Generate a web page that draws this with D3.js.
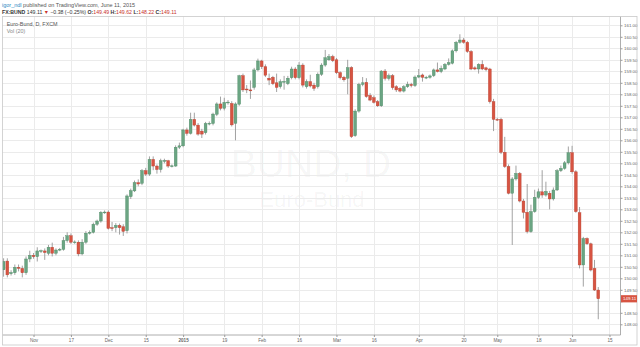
<!DOCTYPE html>
<html>
<head>
<meta charset="utf-8">
<script src="https://cdn.jsdelivr.net/npm/d3@7"></script>
<style>
  body { margin: 0; background: #fff; }
  svg { display: block; font-family: "Liberation Sans", Arial, sans-serif; }
</style>
</head>
<body>
<div id="app"></div>
<script>
// 取引日（週末と休場日を除く）
const firstDay = "2014-10-22";
const lastDay = "2015-06-15";
const holidays = ["2014-12-24", "2014-12-25", "2014-12-26", "2015-01-01", "2015-04-03", "2015-05-25"];

// x軸の目盛り
const xTickDates = ["2014-11-03", "2014-11-17", "2014-12-01", "2014-12-15", "2015-01-02", "2015-01-19",
  "2015-02-02", "2015-02-16", "2015-03-02", "2015-03-16", "2015-04-01", "2015-04-20",
  "2015-05-01", "2015-05-18", "2015-06-01", "2015-06-15"];
const xTickLabels = ["Nov", "17", "Dec", "15", "2015", "19", "Feb", "16", "Mar", "16", "Apr", "20", "May", "18", "Jun", "15"];

// y軸の目盛り
const yMin = 148, yMax = 161, yStep = 0.5;

// 日足 OHLC
const open = [
  150.37,150.75,150.20,150.24,150.48,150.43,150.24,150.84,151.00,150.94,
  151.19,151.19,151.09,151.35,151.09,151.24,151.26,151.64,151.85,151.57,
  151.57,151.06,151.57,151.96,152.00,152.35,152.49,152.87,152.88,152.20,
  152.20,152.30,152.24,152.07,153.55,153.80,154.16,154.13,154.68,154.53,
  155.17,154.88,154.73,155.10,155.11,154.88,154.88,155.70,155.76,156.45,
  156.30,156.91,156.66,156.40,156.33,156.73,156.73,157.13,157.58,157.39,
  157.65,157.60,156.74,157.57,158.81,158.23,158.19,158.30,159.06,159.45,
  159.20,158.70,158.74,158.50,158.33,158.55,158.46,158.72,159.10,158.72,
  159.27,158.33,158.55,158.40,158.33,158.87,159.27,159.50,159.64,159.50,
  158.94,158.74,158.70,159.16,156.20,157.27,158.43,158.52,157.95,157.85,
  157.68,157.50,159.01,158.69,158.81,158.33,158.26,158.14,158.33,158.43,
  158.38,158.75,158.84,158.72,158.74,158.81,159.06,158.99,159.10,159.30,
  159.35,159.89,160.26,160.36,160.26,159.86,159.15,159.10,159.30,159.15,
  159.10,157.68,156.91,156.91,155.48,154.86,153.70,154.32,154.56,153.36,
  152.87,152.03,152.90,153.52,153.76,153.62,153.70,153.45,153.84,154.68,
  154.78,155.02,155.46,154.63,152.85,150.58,151.73,151.50,150.43,149.49
];
const high = [
  150.87,150.87,150.35,150.60,150.60,150.55,150.95,151.20,151.10,151.35,
  151.25,151.30,151.45,151.55,151.30,151.32,151.80,152.00,151.95,151.65,
  151.65,151.70,152.05,152.08,152.42,152.55,152.92,152.95,152.95,152.45,
  152.40,152.38,152.35,153.65,153.90,154.25,154.30,154.75,154.80,155.30,
  155.30,154.95,155.20,155.20,155.15,154.95,155.78,155.90,156.50,156.55,
  157.20,157.20,156.75,156.50,156.80,156.82,157.20,157.65,157.90,157.85,
  157.75,157.70,157.65,158.85,158.90,158.40,158.60,159.15,159.55,159.50,
  159.30,158.90,158.80,158.90,158.65,158.80,158.80,159.20,159.18,159.40,
  159.35,158.65,158.85,158.50,158.95,159.35,159.93,159.75,159.72,159.58,
  159.00,158.80,159.50,159.22,157.35,158.50,158.75,158.70,158.05,157.95,
  157.75,159.05,159.10,158.90,158.88,158.40,158.32,158.40,158.55,158.50,
  158.82,159.10,158.90,158.80,158.86,159.12,159.38,159.25,159.36,159.56,
  159.95,160.32,160.61,160.45,160.32,159.92,159.22,159.35,159.48,159.20,
  159.15,157.80,156.98,156.98,156.15,154.95,154.40,154.90,154.62,153.45,
  154.10,153.20,153.85,153.90,154.70,154.20,153.80,153.95,154.75,154.90,
  155.10,155.73,155.76,154.70,153.10,151.80,151.78,151.55,150.80,149.62
];
const low = [
  150.07,150.04,150.12,150.15,150.30,150.04,150.15,150.70,150.85,150.73,
  151.10,150.80,151.00,150.95,151.00,151.18,151.20,151.55,151.50,151.50,
  150.96,151.00,151.50,151.90,151.95,152.28,152.42,152.80,152.12,152.05,
  152.00,151.90,151.84,151.95,153.45,153.75,154.00,154.05,154.45,154.45,
  154.70,154.55,154.60,155.00,154.80,154.82,154.85,155.62,155.70,156.20,
  156.25,156.60,156.20,156.10,156.25,156.65,156.65,157.05,157.30,157.30,
  157.55,156.60,156.00,157.50,158.10,158.05,157.80,158.20,159.00,159.10,
  158.75,158.40,158.40,158.10,158.25,158.20,158.40,158.65,158.65,158.65,
  158.30,158.25,158.30,158.15,158.25,158.80,159.20,159.45,159.40,158.88,
  158.65,158.55,158.00,156.10,156.15,157.20,158.35,157.85,157.70,157.60,
  157.45,157.45,158.60,158.60,158.20,158.10,158.08,158.08,158.28,158.30,
  158.32,158.70,158.55,158.66,158.68,158.75,158.95,158.92,159.05,159.25,
  159.30,159.82,160.20,160.20,159.80,159.05,159.05,158.90,159.05,159.00,
  157.60,156.40,156.85,155.40,154.80,153.65,151.45,154.25,153.30,152.60,
  151.95,151.98,152.85,153.45,153.50,153.55,153.00,153.38,153.80,154.62,
  154.72,154.95,154.55,152.85,150.43,149.64,151.45,150.30,149.45,148.22
];
const close = [
  150.73,150.15,150.25,150.48,150.43,150.24,150.84,151.00,150.94,151.19,
  151.20,151.12,151.35,151.09,151.23,151.26,151.64,151.85,151.57,151.58,
  151.06,151.57,151.96,152.00,152.35,152.49,152.87,152.88,152.17,152.17,
  152.30,152.20,152.04,153.58,153.81,154.16,154.10,154.68,154.53,155.17,
  154.88,154.73,155.11,155.12,154.88,154.89,155.70,155.76,156.45,156.30,
  156.91,156.66,156.27,156.27,156.73,156.74,157.14,157.58,157.39,157.65,
  157.66,156.67,157.58,158.81,158.19,158.19,158.15,159.06,159.45,159.20,
  158.83,158.62,158.46,158.30,158.55,158.56,158.70,159.10,158.72,159.27,
  158.40,158.55,158.36,158.26,158.87,159.27,159.59,159.64,159.46,158.94,
  158.72,158.63,159.16,156.16,157.27,158.43,158.50,157.90,157.75,157.65,
  157.50,159.01,158.69,158.81,158.29,158.19,158.14,158.33,158.43,158.38,
  158.75,158.81,158.74,158.74,158.80,159.06,158.99,159.13,159.30,159.38,
  159.89,160.26,160.36,160.26,159.86,159.10,159.10,159.30,159.10,159.07,
  157.68,156.91,156.90,155.48,154.86,153.70,154.32,154.56,153.36,152.87,
  152.03,152.90,153.52,153.76,153.62,153.78,153.45,153.84,154.68,154.78,
  155.02,155.46,154.63,152.90,150.58,151.73,151.50,150.36,149.49,149.11
];

const width = 640, height = 347;
const plot = { left: 2.5, top: 16.5, right: 620.5, bottom: 335 };
const upColor = "#6ba583", downColor = "#d75442";

const fmtDay = d3.timeFormat("%Y-%m-%d");
const parseDay = d3.timeParse("%Y-%m-%d");
const days = d3.timeDay
  .range(parseDay(firstDay), d3.timeDay.offset(parseDay(lastDay), 1))
  .filter((d) => d.getDay() !== 0 && d.getDay() !== 6 && !holidays.includes(fmtDay(d)))
  .map(fmtDay);

const bars = open.map((o, i) => ({ i, o, h: high[i], l: low[i], c: close[i] }));
const last = bars[bars.length - 1];

const x = d3.scaleLinear().domain([0, days.length - 1]).range([3.6, 3.6 + (days.length - 1) * 3.74]);
const y = d3.scaleLinear().domain([yMin, yMax]).range([324.3, 25.3]);

const svg = d3.select("#app").append("svg").attr("width", width).attr("height", height);

// 透かし
svg.append("text").attr("x", 311).attr("y", 177).attr("text-anchor", "middle")
  .attr("font-size", 39).attr("fill", "#000").attr("fill-opacity", 0.045).text("BUND, D");
svg.append("text").attr("x", 312).attr("y", 207).attr("text-anchor", "middle")
  .attr("font-size", 22).attr("fill", "#000").attr("fill-opacity", 0.045).text("Euro-Bund");

// グリッド
const yTicks = d3.range(yMin, yMax + 0.001, yStep);
const xTickIdx = xTickDates.map((d) => days.indexOf(d));

svg.append("g").selectAll("line").data(yTicks).join("line")
  .attr("x1", plot.left).attr("x2", plot.right)
  .attr("y1", (d) => Math.round(y(d)) + 0.5).attr("y2", (d) => Math.round(y(d)) + 0.5)
  .attr("stroke", "#ebebeb").attr("stroke-width", 1);
svg.append("g").selectAll("line").data(xTickIdx).join("line")
  .attr("x1", (d) => Math.round(x(d)) + 0.5).attr("x2", (d) => Math.round(x(d)) + 0.5)
  .attr("y1", plot.top).attr("y2", plot.bottom)
  .attr("stroke", "#ebebeb").attr("stroke-width", 1);

// ローソク足
svg.append("clipPath").attr("id", "clip").append("rect")
  .attr("x", plot.left).attr("y", plot.top)
  .attr("width", plot.right - plot.left).attr("height", plot.bottom - plot.top);

const candles = svg.append("g").attr("clip-path", "url(#clip)")
  .selectAll("g").data(bars).join("g");

candles.append("line")
  .attr("x1", (d) => x(d.i)).attr("x2", (d) => x(d.i))
  .attr("y1", (d) => y(d.h)).attr("y2", (d) => y(d.l))
  .attr("stroke", "#8a8a8a").attr("stroke-width", 0.8);

candles.append("rect")
  .attr("x", (d) => x(d.i) - 1.4)
  .attr("width", 2.8)
  .attr("y", (d) => y(Math.max(d.o, d.c)))
  .attr("height", (d) => Math.max(0.8, Math.abs(y(d.o) - y(d.c))))
  .attr("fill", (d) => (d.c >= d.o ? upColor : downColor))
  .attr("stroke", (d) => (d.c >= d.o ? "#4d8a64" : "#b8402f"))
  .attr("stroke-width", 0.4);

// y軸（最終価格ラベルと重なる目盛り文字は隠す）
const yAxis = d3.axisRight(y).tickValues(yTicks).tickFormat(d3.format(".2f")).tickSize(2).tickPadding(1.5);
const gy = svg.append("g").attr("transform", `translate(${plot.right},0)`).call(yAxis);
gy.select(".domain").remove();
gy.selectAll("line").attr("stroke", "#999");
gy.selectAll("text").attr("font-size", 4.4).attr("fill", "#666").attr("font-family", "Liberation Sans, Arial, sans-serif");
gy.selectAll(".tick").filter((d) => Math.abs(y(d) - y(last.c)) < 6).select("text").remove();

// x軸
const xAxis = d3.axisBottom(x).tickValues(xTickIdx).tickFormat((d, i) => xTickLabels[i]).tickSize(2).tickPadding(1.5);
const gx = svg.append("g").attr("transform", `translate(0,${plot.bottom})`).call(xAxis);
gx.select(".domain").remove();
gx.selectAll("line").attr("stroke", "#999");
gx.selectAll("text").attr("font-size", 4.6).attr("fill", "#666").attr("font-family", "Liberation Sans, Arial, sans-serif")
  .attr("font-weight", (d, i) => (xTickLabels[i] === "2015" ? "bold" : "normal"));

// 軸線と枠
svg.append("line").attr("x1", plot.right).attr("x2", plot.right).attr("y1", plot.top).attr("y2", plot.bottom)
  .attr("stroke", "#999").attr("stroke-width", 0.8);
svg.append("line").attr("x1", plot.left).attr("x2", plot.right).attr("y1", plot.bottom).attr("y2", plot.bottom)
  .attr("stroke", "#999").attr("stroke-width", 0.8);
svg.append("rect").attr("x", plot.left).attr("y", plot.top).attr("width", 634.5).attr("height", 328.5)
  .attr("fill", "none").attr("stroke", "#c9c9c9").attr("stroke-width", 0.8);

// 最終価格ラベル
svg.append("rect").attr("x", plot.right + 0.5).attr("y", y(last.c) - 3.6).attr("width", 16).attr("height", 7.2)
  .attr("fill", downColor);
svg.append("text").attr("x", plot.right + 2.5).attr("y", y(last.c)).attr("dy", "0.35em")
  .attr("font-size", 4.4).attr("fill", "#fff").text(d3.format(".2f")(last.c));

// ヘッダー
const h1 = svg.append("text").attr("x", 2).attr("y", 6.6).attr("font-size", 5.5).attr("fill", "#555");
h1.append("tspan").attr("fill", "#2a8ac4").text("igor_ndl");
h1.append("tspan").text(" published on TradingView.com, June 11, 2015");

const h2 = svg.append("text").attr("x", 2).attr("y", 13.6).attr("font-size", 5.2).attr("fill", "#333");
h2.append("tspan").attr("font-weight", "bold").text("FX:BUND");
h2.append("tspan").text(" 149.11 ");
h2.append("tspan").attr("fill", "#c8322b").text("▼");
h2.append("tspan").text(" −0.38 (−0.25%) ");
[["O:", open], ["H:", high], ["L:", low], ["C:", close]].forEach(([k, arr], j) => {
  h2.append("tspan").attr("font-weight", "bold").text((j ? " " : "") + k);
  h2.append("tspan").attr("fill", "#c8322b").text(d3.format(".2f")(arr[arr.length - 1]));
});

svg.append("text").attr("x", 6.7).attr("y", 26.3).attr("font-size", 5.4).attr("fill", "#555").text("Euro-Bund, D, FXCM");
svg.append("text").attr("x", 6.7).attr("y", 33.2).attr("font-size", 5.4).attr("fill", "#888").text("Vol (20)");
</script>
</body>
</html>
